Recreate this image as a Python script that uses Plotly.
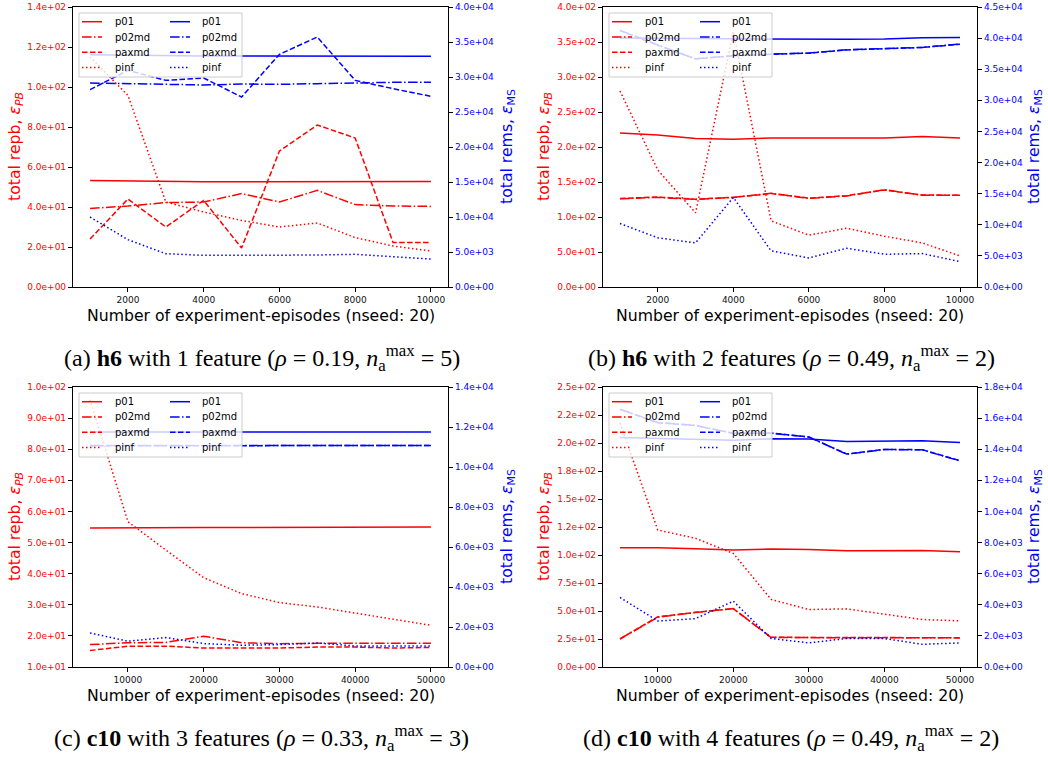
import plotly.graph_objects as go

W, H = 1048, 757

# ---------------- data ----------------
series_names = ["p01", "p02md", "paxmd", "pinf"]

x_h6 = [1000, 2000, 3000, 4000, 5000, 6000, 7000, 8000, 9000, 10000]
x_c10 = [5000, 10000, 15000, 20000, 25000, 30000, 35000, 40000, 45000, 50000]

# (a) h6, 1 feature
a_red_p01 = [53.3, 53.0, 52.8, 52.6, 52.6, 52.6, 52.7, 52.7, 52.7, 52.7]
a_red_p02md = [39.3, 40.5, 42.2, 42.5, 46.7, 42.5, 48.3, 41.2, 40.5, 40.3]
a_red_paxmd = [24.0, 44.0, 30.0, 43.3, 19.5, 68.0, 81.0, 74.5, 22.2, 22.2]
a_red_pinf = [115.0, 95.8, 42.5, 37.5, 33.3, 30.0, 32.0, 24.7, 20.5, 18.0]
a_blue_p01 = [33190, 33100, 33050, 33000, 33000, 32980, 32970, 32960, 32950, 32950]
a_blue_p02md = [29140, 29050, 28860, 28860, 29000, 28950, 29050, 29190, 29240, 29240]
a_blue_paxmd = [28190, 30950, 29520, 29860, 27140, 33240, 35710, 29520, 28330, 27240]
a_blue_pinf = [10000, 6760, 4760, 4520, 4520, 4520, 4570, 4670, 4290, 4000]

# (b) h6, 2 features
b_red_p01 = [220, 217, 212, 211, 213, 213, 213, 213, 215, 213]
b_red_p02md = [126, 128, 125, 128, 134, 126.5, 130, 139, 131, 131]
b_red_paxmd = [126.5, 128.5, 125.5, 128, 133.5, 127, 130.5, 138.5, 131.5, 131]
b_red_pinf = [280, 167, 106, 365, 94.5, 74, 84, 72.5, 63, 44.4]
b_blue_p01 = [40000, 39950, 39900, 39850, 39800, 39750, 39800, 39850, 40050, 40100]
b_blue_p02md = [41250, 38900, 36680, 37170, 37430, 37600, 38130, 38290, 38510, 39040]
b_blue_paxmd = [41200, 38850, 36650, 37150, 37400, 37580, 38100, 38280, 38500, 39020]
b_blue_pinf = [10200, 7900, 7090, 14390, 5800, 4670, 6230, 5260, 5370, 4080]

# (c) c10, 3 features
c_red_p01 = [54.7, 54.8, 54.8, 54.8, 54.8, 54.8, 54.9, 55.0, 55.0, 55.0]
c_red_p02md = [17.2, 17.8, 17.9, 19.9, 17.8, 17.5, 17.6, 17.7, 17.6, 17.6]
c_red_paxmd = [15.3, 16.7, 16.7, 16.1, 16.1, 16.1, 16.4, 16.4, 16.1, 16.3]
c_red_pinf = [95.9, 56.7, 47.6, 38.7, 33.6, 30.7, 29.3, 27.4, 25.4, 23.4]
c_blue_p01 = [11745, 11745, 11740, 11740, 11740, 11740, 11740, 11745, 11745, 11745]
c_blue_p02md = [11080, 11085, 11080, 11075, 11080, 11085, 11080, 11075, 11080, 11080]
c_blue_paxmd = [11060, 11070, 11075, 11070, 11065, 11070, 11075, 11070, 11065, 11070]
c_blue_pinf = [1700, 1290, 1470, 1170, 1090, 1120, 1200, 1050, 1050, 1050]

# (d) c10, 4 features
d_red_p01 = [106.5, 106.5, 105.6, 104.4, 105.3, 105.0, 103.8, 104.1, 104.1, 102.9]
d_red_p02md = [25.0, 44.5, 48.6, 52.2, 26.3, 26.3, 26.3, 26.3, 26.3, 26.0]
d_red_paxmd = [25.2, 44.8, 48.8, 52.0, 26.5, 26.5, 26.4, 26.4, 26.3, 26.1]
d_red_pinf = [217.8, 122.3, 114.9, 101.4, 60.3, 51.3, 51.9, 47.1, 42.4, 41.2]
d_blue_p01 = [14755, 14710, 14670, 14580, 14670, 14650, 14500, 14540, 14540, 14430]
d_blue_p02md = [16580, 15720, 15530, 15030, 15030, 14780, 13680, 13980, 13960, 13250]
d_blue_paxmd = [16560, 15700, 15520, 15020, 15040, 14790, 13690, 13990, 13970, 13260]
d_blue_pinf = [4470, 2960, 3110, 4230, 1830, 1550, 1830, 1830, 1460, 1550]

# tick values
xticks_h6 = [2000, 4000, 6000, 8000, 10000]
xticks_c10 = [10000, 20000, 30000, 40000, 50000]
a_left_ticks = [0, 20, 40, 60, 80, 100, 120, 140]
a_right_ticks = [0, 5000, 10000, 15000, 20000, 25000, 30000, 35000, 40000]
b_left_ticks = [0, 50, 100, 150, 200, 250, 300, 350, 400]
b_right_ticks = [0, 5000, 10000, 15000, 20000, 25000, 30000, 35000, 40000, 45000]
c_left_ticks = [10, 20, 30, 40, 50, 60, 70, 80, 90, 100]
c_right_ticks = [0, 2000, 4000, 6000, 8000, 10000, 12000, 14000]
d_left_ticks = [0, 25, 50, 75, 100, 125, 150, 175, 200, 225, 250]
d_right_ticks = [0, 2000, 4000, 6000, 8000, 10000, 12000, 14000, 16000, 18000]

xlabel = "Number of experiment-episodes (nseed: 20)"
left_title = "total repb, <i>ε</i><sub><i>PB</i></sub>"
right_title = "total rems, <i>ε</i><sub>MS</sub>"
captions = [
    "(a) <b>h6</b> with 1 feature (<i>ρ</i> = 0.19, <i>n</i><sub>a</sub><sup>max</sup> = 5)",
    "(b) <b>h6</b> with 2 features (<i>ρ</i> = 0.49, <i>n</i><sub>a</sub><sup>max</sup> = 2)",
    "(c) <b>c10</b> with 3 features (<i>ρ</i> = 0.33, <i>n</i><sub>a</sub><sup>max</sup> = 3)",
    "(d) <b>c10</b> with 4 features (<i>ρ</i> = 0.49, <i>n</i><sub>a</sub><sup>max</sup> = 2)",
]

# ---------------- styling / layout ----------------
RED = "#ff0000"
BLUE = "#0000ff"
dashes = {"p01": "solid", "p02md": "9.6px,2.4px,1.5px,2.4px",
          "paxmd": "5.55px,2.4px", "pinf": "1.5px,2.5px"}
FONT = "DejaVu Sans"

panels = [
    dict(x=x_h6, red=[a_red_p01, a_red_p02md, a_red_paxmd, a_red_pinf],
         blue=[a_blue_p01, a_blue_p02md, a_blue_paxmd, a_blue_pinf],
         lt=a_left_ticks, rt=a_right_ticks, xt=xticks_h6, xr=[550, 10450],
         box=(73, 7, 448, 287), lx=15, rx=507),
    dict(x=x_h6, red=[b_red_p01, b_red_p02md, b_red_paxmd, b_red_pinf],
         blue=[b_blue_p01, b_blue_p02md, b_blue_paxmd, b_blue_pinf],
         lt=b_left_ticks, rt=b_right_ticks, xt=xticks_h6, xr=[550, 10450],
         box=(603, 7, 977, 287), lx=544, rx=1034),
    dict(x=x_c10, red=[c_red_p01, c_red_p02md, c_red_paxmd, c_red_pinf],
         blue=[c_blue_p01, c_blue_p02md, c_blue_paxmd, c_blue_pinf],
         lt=c_left_ticks, rt=c_right_ticks, xt=xticks_c10, xr=[2750, 52250],
         box=(73, 387, 448, 667), lx=15, rx=507),
    dict(x=x_c10, red=[d_red_p01, d_red_p02md, d_red_paxmd, d_red_pinf],
         blue=[d_blue_p01, d_blue_p02md, d_blue_paxmd, d_blue_pinf],
         lt=d_left_ticks, rt=d_right_ticks, xt=xticks_c10, xr=[2750, 52250],
         box=(603, 387, 977, 667), lx=544, rx=1034),
]


def px(v):
    return v / W


def py(v):
    return 1 - v / H


fig = go.Figure()
layout = dict(width=W, height=H, margin=dict(l=0, r=0, t=0, b=0),
              paper_bgcolor="white", plot_bgcolor="white", showlegend=False,
              font=dict(family=FONT, color="black"), shapes=[], annotations=[])

for i, p in enumerate(panels):
    L, T, R, B = p["box"]
    xn = i + 1
    yl = 2 * i + 1
    yr = 2 * i + 2
    xref = "x" if xn == 1 else f"x{xn}"
    ylref = "y" if yl == 1 else f"y{yl}"
    yrref = f"y{yr}"

    for name, vals in zip(series_names, p["red"]):
        fig.add_trace(go.Scatter(x=p["x"], y=vals, name=name, mode="lines",
                                 line=dict(color=RED, width=1.5, dash=dashes[name]),
                                 xaxis=xref, yaxis=ylref))
    for name, vals in zip(series_names, p["blue"]):
        fig.add_trace(go.Scatter(x=p["x"], y=vals, name=name, mode="lines",
                                 line=dict(color=BLUE, width=1.5, dash=dashes[name]),
                                 xaxis=xref, yaxis=yrref))

    common = dict(showgrid=False, zeroline=False, showline=True, linecolor="black",
                  linewidth=1.2, ticks="outside", ticklen=4, tickwidth=1,
                  tickcolor="black", automargin=False)
    layout["xaxis" if xn == 1 else f"xaxis{xn}"] = dict(
        domain=[px(L), px(R)], anchor=ylref, range=p["xr"], mirror=True,
        tickvals=p["xt"], ticktext=[str(v) for v in p["xt"]],
        tickfont=dict(size=9, color="#111111", family=FONT), **common)
    layout["yaxis" if yl == 1 else f"yaxis{yl}"] = dict(
        domain=[py(B), py(T)], anchor=xref, range=[p["lt"][0], p["lt"][-1]],
        tickvals=p["lt"], ticktext=[f"{v:.1e}" for v in p["lt"]],
        tickfont=dict(size=9, color=RED, family=FONT), **common)
    layout[f"yaxis{yr}"] = dict(
        domain=[py(B), py(T)], anchor=xref, overlaying=ylref, side="right",
        range=[p["rt"][0], p["rt"][-1]],
        tickvals=p["rt"], ticktext=[f"{v:.1e}" for v in p["rt"]],
        tickfont=dict(size=9, color=BLUE, family=FONT), **common)

    # legend box (two columns, semi-transparent like matplotlib's)
    layout["shapes"].append(dict(type="rect", xref="paper", yref="paper",
                                 x0=px(L + 6), x1=px(L + 169), y0=py(T + 70), y1=py(T + 6),
                                 fillcolor="rgba(255,255,255,0.8)",
                                 line=dict(color="#cccccc", width=1), layer="above"))
    for col, (color, lx0, tx) in enumerate(((RED, 9, 40), (BLUE, 97, 127))):
        for k, name in enumerate(series_names):
            yy = py(T + 14.7 + 15.3 * k)
            layout["shapes"].append(dict(type="line", xref="paper", yref="paper",
                                         x0=px(L + lx0), x1=px(L + lx0 + 20), y0=yy, y1=yy,
                                         line=dict(color=color, width=1.5, dash=dashes[name]),
                                         layer="above"))
            layout["annotations"].append(dict(text=name, x=px(L + tx), y=yy, xref="paper",
                                              yref="paper", showarrow=False, xanchor="left",
                                              yanchor="middle",
                                              font=dict(size=10, color="black", family=FONT)))

    cy = py((T + B) / 2)
    layout["annotations"].append(dict(text=left_title, x=px(p["lx"]), y=cy, xref="paper",
                                      yref="paper", textangle=-90, showarrow=False,
                                      xanchor="center", yanchor="middle",
                                      font=dict(size=15.7, color=RED, family=FONT)))
    layout["annotations"].append(dict(text=right_title, x=px(p["rx"]), y=cy, xref="paper",
                                      yref="paper", textangle=-90, showarrow=False,
                                      xanchor="center", yanchor="middle",
                                      font=dict(size=15.7, color=BLUE, family=FONT)))
    layout["annotations"].append(dict(text=xlabel, x=px((L + R) / 2), y=py(B + 28),
                                      xref="paper", yref="paper", showarrow=False,
                                      xanchor="center", yanchor="middle",
                                      font=dict(size=15.7, color="black", family=FONT)))
    layout["annotations"].append(dict(text=captions[i], x=px((L + R) / 2 + 1),
                                      y=py(B + 71), xref="paper", yref="paper",
                                      showarrow=False, xanchor="center", yanchor="middle",
                                      font=dict(size=24, color="black",
                                                family="Liberation Serif")))

fig.update_layout(**layout)
fig.write_html("out.html", config={"displayModeBar": False},
               post_script="document.body.style.margin='0';")
